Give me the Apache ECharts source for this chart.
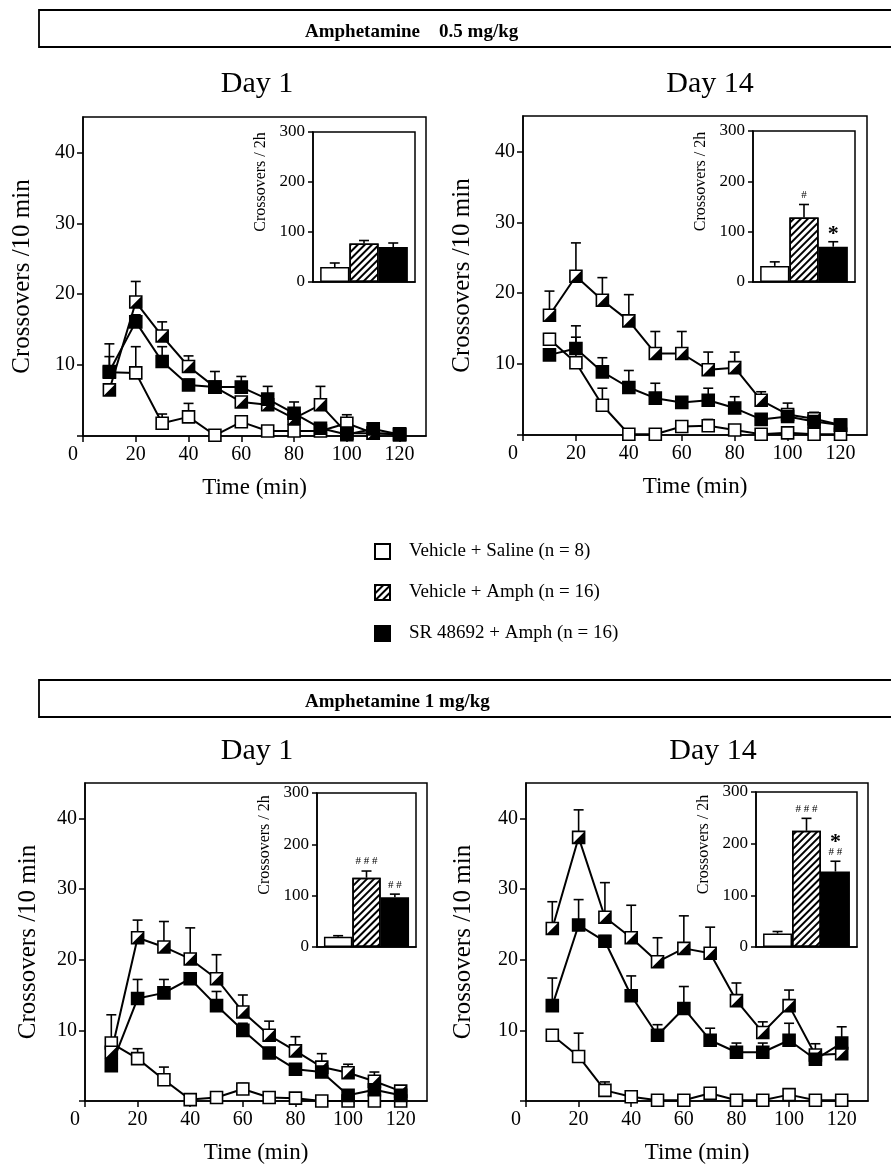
<!DOCTYPE html>
<html><head><meta charset="utf-8">
<script src="https://cdn.jsdelivr.net/npm/echarts@6/dist/echarts.min.js"></script>
<style>html,body{margin:0;padding:0;background:#fff}#c{width:891px;height:1173px}</style>
</head><body><div id="c"></div><script>
const FONT = '"Liberation Serif","Times New Roman",serif';

// ---- categories / labels ----
const times = [10,20,30,40,50,60,70,80,90,100,110,120];
const groupNames = ['Vehicle + Saline (n = 8)', 'Vehicle + Amph (n = 16)', 'SR 48692 + Amph (n = 16)'];
const headers = ['Amphetamine    0.5 mg/kg', 'Amphetamine 1 mg/kg'];
const dayTitles = ['Day 1', 'Day 14', 'Day 1', 'Day 14'];
const xTickLabels = [0,20,40,60,80,100,120];
const yTickValues = [0,10,20,30,40];
const yTickLabels = [10,20,30,40];
const insetTicks = [0,100,200,300];
const yTitle = 'Crossovers /10 min';
const xTitle = 'Time (min)';
const insetTitle = 'Crossovers / 2h';

// ---- Amphetamine 0.5 mg/kg, Day 1 ----
const p05d1Sal    = [9.0, 8.9, 1.8, 2.7, 0.1, 2.0, 0.7, 0.7, 0.7, 1.8, 0.4, 0.3];
const p05d1SalErr = [2.2, 3.7, 1.3, 1.9, 0.3, 0.5, 0.3, 0.3, 0.3, 1.2, 0.3, 0.2];
const p05d1Amp    = [6.5, 18.9, 14.1, 9.8, 6.9, 4.8, 4.4, 2.5, 4.4, 0.4, 0.4, 0.2];
const p05d1AmpErr = [0.5, 2.9, 2.0, 1.5, 2.2, 0.6, 0.6, 0.5, 2.6, 0.4, 0.3, 0.2];
const p05d1Sr     = [9.1, 16.1, 10.5, 7.2, 6.9, 6.9, 5.2, 3.2, 1.1, 0.2, 1.0, 0.2];
const p05d1SrErr  = [3.9, 1.0, 2.1, 0.8, 0.5, 1.5, 1.8, 1.6, 0.5, 0.4, 0.4, 0.2];
const p05d1Bars    = [30, 77, 70];
const p05d1BarsErr = [8, 6, 8];
const p05d1Hash = ['', '', ''];
const p05d1Star = ['', '', ''];

// ---- Amphetamine 0.5 mg/kg, Day 14 ----
const p05d14Sal    = [13.5, 10.2, 4.2, 0.1, 0.1, 1.2, 1.3, 0.7, 0.1, 0.3, 0.1, 0.1];
const p05d14SalErr = [0.8, 3.6, 2.4, 0.2, 0.2, 0.3, 0.9, 0.3, 0.2, 0.3, 0.2, 0.2];
const p05d14Amp    = [16.9, 22.4, 19.0, 16.1, 11.5, 11.5, 9.2, 9.5, 4.9, 2.9, 2.3, 1.4];
const p05d14AmpErr = [3.4, 4.7, 3.2, 3.7, 3.1, 3.1, 2.5, 2.2, 1.2, 1.6, 0.9, 0.4];
const p05d14Sr     = [11.3, 12.2, 8.9, 6.7, 5.2, 4.6, 4.9, 3.8, 2.2, 2.6, 1.9, 1.4];
const p05d14SrErr  = [0.8, 3.2, 2.0, 2.4, 2.1, 0.5, 1.7, 1.6, 0.5, 0.5, 0.5, 0.4];
const p05d14Bars    = [32, 128, 70];
const p05d14BarsErr = [8, 26, 10];
const p05d14Hash = ['', '#', ''];
const p05d14Star = ['', '', '*'];

// ---- Amphetamine 1 mg/kg, Day 1 ----
const p1d1Sal    = [8.2, 6.0, 3.0, 0.2, 0.5, 1.7, 0.5, 0.4, 0.0, 0.0, 0.0, 0.0];
const p1d1SalErr = [4.0, 1.4, 1.8, 0.2, 0.3, 0.8, 0.3, 0.3, 0.2, 0.2, 0.2, 0.2];
const p1d1Amp    = [6.9, 23.1, 21.8, 20.1, 17.3, 12.6, 9.3, 7.1, 4.8, 4.0, 2.8, 1.4];
const p1d1AmpErr = [0.5, 2.5, 3.6, 4.4, 3.4, 2.4, 2.0, 2.0, 1.9, 1.2, 1.3, 0.4];
const p1d1Sr     = [5.0, 14.5, 15.3, 17.3, 13.5, 10.0, 6.8, 4.5, 4.1, 0.8, 1.6, 0.8];
const p1d1SrErr  = [0.5, 2.7, 1.9, 0.8, 2.0, 1.0, 0.5, 0.6, 0.5, 0.4, 0.4, 0.3];
const p1d1Bars    = [20, 135, 97];
const p1d1BarsErr = [2, 13, 6];
const p1d1Hash = ['', '# # #', '# #'];
const p1d1Star = ['', '', ''];

// ---- Amphetamine 1 mg/kg, Day 14 ----
const p1d14Sal    = [9.3, 6.3, 1.5, 0.6, 0.1, 0.1, 1.1, 0.1, 0.1, 0.9, 0.1, 0.1];
const p1d14SalErr = [0.5, 3.3, 1.2, 0.3, 0.2, 0.2, 0.3, 0.2, 0.2, 0.3, 0.2, 0.2];
const p1d14Amp    = [24.4, 37.3, 26.0, 23.1, 19.7, 21.6, 20.9, 14.2, 9.7, 13.5, 6.5, 6.7];
const p1d14AmpErr = [3.8, 3.9, 4.9, 4.6, 3.4, 4.6, 3.7, 2.5, 1.5, 2.2, 1.6, 0.5];
const p1d14Sr     = [13.5, 24.9, 22.6, 14.9, 9.3, 13.1, 8.6, 6.9, 6.9, 8.6, 5.9, 8.2];
const p1d14SrErr  = [3.9, 3.6, 0.8, 2.8, 1.5, 3.1, 1.7, 1.3, 1.3, 2.4, 0.5, 2.3];
const p1d14Bars    = [26, 225, 146];
const p1d14BarsErr = [4, 24, 20];
const p1d14Hash = ['', '# # #', '# #'];
const p1d14Star = ['', '', '*'];

// ---- assembled per panel ----
const panels = [
  {lines: [[p05d1Sal, p05d1SalErr], [p05d1Amp, p05d1AmpErr], [p05d1Sr, p05d1SrErr]], bars: p05d1Bars, barsErr: p05d1BarsErr, hash: p05d1Hash, star: p05d1Star},
  {lines: [[p05d14Sal, p05d14SalErr], [p05d14Amp, p05d14AmpErr], [p05d14Sr, p05d14SrErr]], bars: p05d14Bars, barsErr: p05d14BarsErr, hash: p05d14Hash, star: p05d14Star},
  {lines: [[p1d1Sal, p1d1SalErr], [p1d1Amp, p1d1AmpErr], [p1d1Sr, p1d1SrErr]], bars: p1d1Bars, barsErr: p1d1BarsErr, hash: p1d1Hash, star: p1d1Star},
  {lines: [[p1d14Sal, p1d14SalErr], [p1d14Amp, p1d14AmpErr], [p1d14Sr, p1d14SrErr]], bars: p1d14Bars, barsErr: p1d14BarsErr, hash: p1d14Hash, star: p1d14Star}
];

// ---- layout (pixels) ----
const layout = [
  {main: {left: 83, top: 117, width: 343, height: 319}, inset: {left: 313, top: 132, width: 102, height: 150}, title: [252, 64], yGap: 48},
  {main: {left: 523, top: 116, width: 344, height: 319}, inset: {left: 753, top: 131, width: 102, height: 151}, title: [705, 64], yGap: 48},
  {main: {left: 85, top: 783, width: 342, height: 318}, inset: {left: 317, top: 793, width: 99, height: 154}, title: [252, 731], yGap: 44},
  {main: {left: 526, top: 783, width: 342, height: 318}, inset: {left: 756, top: 792, width: 101, height: 155}, title: [708, 731], yGap: 50}
];
const headerBoxes = [{y: 10, h: 37}, {y: 680, h: 37}];
const BAR_GAP = 0.14;
const BLACK = '#000';

const hatchDecal = {symbol: 'rect', symbolSize: 1, color: BLACK, dashArrayX: [1, 0], dashArrayY: [2, 2.3], rotation: -Math.PI / 4};
const barStyles = [
  {color: '#fff', borderColor: BLACK, borderWidth: 1.5},
  {color: '#fff', borderColor: BLACK, borderWidth: 1.5, decal: hatchDecal},
  {color: BLACK, borderColor: BLACK, borderWidth: 1.5}
];

function errRender(params, api) {
  const x = api.value(0), v = api.value(1), e = api.value(2);
  const p0 = api.coord([x, v]), p1 = api.coord([x, v + e]);
  const st = {stroke: BLACK, lineWidth: 1.6};
  return {type: 'group', children: [
    {type: 'line', shape: {x1: p0[0], y1: p0[1], x2: p1[0], y2: p1[1]}, style: st},
    {type: 'line', shape: {x1: p1[0] - 5, y1: p1[1], x2: p1[0] + 5, y2: p1[1]}, style: st}
  ]};
}
function markerRender(kind) {
  return function (params, api) {
    const p = api.coord([api.value(0), api.value(1)]);
    const s = 12, x = p[0] - s / 2, y = p[1] - s / 2;
    const ch = [{type: 'rect', shape: {x: x, y: y, width: s, height: s},
      style: {fill: kind === 2 ? BLACK : '#fff', stroke: BLACK, lineWidth: 1.6}}];
    if (kind === 1) ch.push({type: 'polygon', shape: {points: [[x + s, y], [x + s, y + s], [x, y + s]]}, style: {fill: BLACK}});
    return {type: 'group', children: ch};
  };
}
function insetErrRender(hash, star) {
  return function (params, api) {
    const g = api.value(3), v = api.value(1), e = api.value(2);
    const c = api.coord([0, v]), t = api.coord([0, v + e]);
    const band = api.size([1, 0])[0];
    const bw = band * (1 - BAR_GAP) / 3;
    const cx = c[0] + (g - 1) * bw;
    const st = {stroke: BLACK, lineWidth: 1.6};
    const ch = [
      {type: 'line', shape: {x1: cx, y1: c[1], x2: cx, y2: t[1]}, style: st},
      {type: 'line', shape: {x1: cx - 5, y1: t[1], x2: cx + 5, y2: t[1]}, style: st}
    ];
    let ty = t[1] - 4;
    if (hash[g]) {
      ch.push({type: 'text', x: cx, y: ty, style: {text: hash[g], fill: BLACK, font: '11px ' + FONT, align: 'center', verticalAlign: 'bottom'}});
      ty -= 12;
    }
    if (star[g]) {
      ch.push({type: 'text', x: cx, y: ty + 8, style: {text: star[g], fill: BLACK, font: 'bold 22px ' + FONT, align: 'center', verticalAlign: 'bottom'}});
    }
    return {type: 'group', children: ch};
  };
}

const grids = [], xAxes = [], yAxes = [], series = [], titles = [];
const axisLineStyle = {color: BLACK, width: 1.5};

layout.forEach((L, i) => {
  grids.push(Object.assign({show: true, borderColor: BLACK, borderWidth: 1.5, containLabel: false, outerBoundsMode: 'none'}, L.main));
  xAxes.push({type: 'value', gridIndex: i, min: 0, max: 130, interval: 20,
    axisLine: {show: true, onZero: false, lineStyle: axisLineStyle},
    axisTick: {show: true, length: 6, lineStyle: axisLineStyle, customValues: xTickLabels},
    axisLabel: {color: BLACK, fontFamily: FONT, fontSize: 20, margin: 9, customValues: xTickLabels,
      formatter: v => v === 0 ? '{z|0}' : (xTickLabels.indexOf(v) >= 0 ? String(v) : ''),
      rich: {z: {fontFamily: FONT, fontSize: 20, color: BLACK, padding: [0, 20, 0, 0]}}},
    splitLine: {show: false},
    name: xTitle, nameLocation: 'middle', nameGap: 40,
    nameTextStyle: {color: BLACK, fontFamily: FONT, fontSize: 23}});
  yAxes.push({type: 'value', gridIndex: i, min: 0, max: 45, interval: 10,
    axisLine: {show: true, onZero: false, lineStyle: axisLineStyle},
    axisTick: {show: true, length: 6, lineStyle: axisLineStyle, customValues: yTickValues},
    axisLabel: {color: BLACK, fontFamily: FONT, fontSize: 20, margin: 8, customValues: yTickLabels,
      formatter: v => yTickLabels.indexOf(v) >= 0 ? String(v) : ''},
    splitLine: {show: false},
    name: yTitle, nameLocation: 'middle', nameGap: L.yGap,
    nameTextStyle: {color: BLACK, fontFamily: FONT, fontSize: 25}});
  titles.push({text: dayTitles[i], left: L.title[0], top: L.title[1], textAlign: 'center',
    textStyle: {fontFamily: FONT, fontSize: 30, fontWeight: 'normal', color: BLACK}});
});
layout.forEach((L, i) => {
  const gi = 4 + i;
  grids.push(Object.assign({show: true, borderColor: BLACK, borderWidth: 1.5, backgroundColor: '#fff', containLabel: false, outerBoundsMode: 'none'}, L.inset));
  xAxes.push({type: 'category', gridIndex: gi, data: ['2h'],
    axisLine: {show: true, lineStyle: axisLineStyle}, axisTick: {show: false}, axisLabel: {show: false}, splitLine: {show: false}});
  yAxes.push({type: 'value', gridIndex: gi, min: 0, max: 300, interval: 100,
    axisLine: {show: true, lineStyle: axisLineStyle},
    axisTick: {show: true, length: 5, lineStyle: axisLineStyle, customValues: insetTicks},
    axisLabel: {color: BLACK, fontFamily: FONT, fontSize: 17, margin: 8, customValues: insetTicks},
    splitLine: {show: false},
    name: insetTitle, nameLocation: 'middle', nameGap: 44,
    nameTextStyle: {color: BLACK, fontFamily: FONT, fontSize: 16, padding: [0, 0, 0, 50]}});
});

// bar series first (legend picks its icon from them)
panels.forEach((P, i) => {
  P.bars.forEach((v, g) => {
    series.push({type: 'bar', name: groupNames[g], xAxisIndex: 4 + i, yAxisIndex: 4 + i,
      data: [v], barGap: '0%', barCategoryGap: (BAR_GAP * 100) + '%', itemStyle: barStyles[g], silent: true, z: 2});
  });
  series.push({type: 'custom', coordinateSystem: 'cartesian2d', xAxisIndex: 4 + i, yAxisIndex: 4 + i,
    data: P.bars.map((v, g) => [0, v, P.barsErr[g], g]), encode: {x: 0, y: 1},
    renderItem: insetErrRender(P.hash, P.star), silent: true, z: 3, clip: false});
});
panels.forEach((P, i) => {
  P.lines.forEach((pair) => {
    series.push({type: 'line', xAxisIndex: i, yAxisIndex: i, data: times.map((t, k) => [t, pair[0][k]]),
      symbol: 'none', showSymbol: false, lineStyle: {color: BLACK, width: 2}, silent: true, z: 1});
  });
  P.lines.forEach((pair) => {
    series.push({type: 'custom', coordinateSystem: 'cartesian2d', xAxisIndex: i, yAxisIndex: i,
      data: times.map((t, k) => [t, pair[0][k], pair[1][k]]), encode: {x: 0, y: 1},
      renderItem: errRender, silent: true, z: 2, clip: false});
  });
  P.lines.forEach((pair, g) => {
    series.push({type: 'custom', coordinateSystem: 'cartesian2d', xAxisIndex: i, yAxisIndex: i,
      data: times.map((t, k) => [t, pair[0][k]]), encode: {x: 0, y: 1},
      renderItem: markerRender(g), silent: true, z: 3 + g * 0.1, clip: false});
  });
});

headers.forEach((h, k) => {
  titles.push({text: h, left: 300, top: headerBoxes[k].y + 8, textAlign: 'left',
    textStyle: {fontFamily: FONT, fontSize: 19, fontWeight: 'bold', color: BLACK}});
});

const option = {
  backgroundColor: '#fff',
  animation: false,
  title: titles,
  legend: {orient: 'vertical', left: 369, top: 537, itemWidth: 15, itemHeight: 15, itemGap: 22,
    icon: 'rect', selectedMode: false, data: groupNames,
    textStyle: {fontFamily: FONT, fontSize: 19, color: BLACK, padding: [0, 0, 0, 14]}},
  graphic: headerBoxes.map(b => ({type: 'rect', shape: {x: 39, y: b.y, width: 900, height: b.h},
    style: {fill: 'none', stroke: BLACK, lineWidth: 1.8}, silent: true})),
  grid: grids, xAxis: xAxes, yAxis: yAxes, series: series
};
const chart = echarts.init(document.getElementById('c'), null, {renderer: 'canvas'});
chart.setOption(option);
</script></body></html>
